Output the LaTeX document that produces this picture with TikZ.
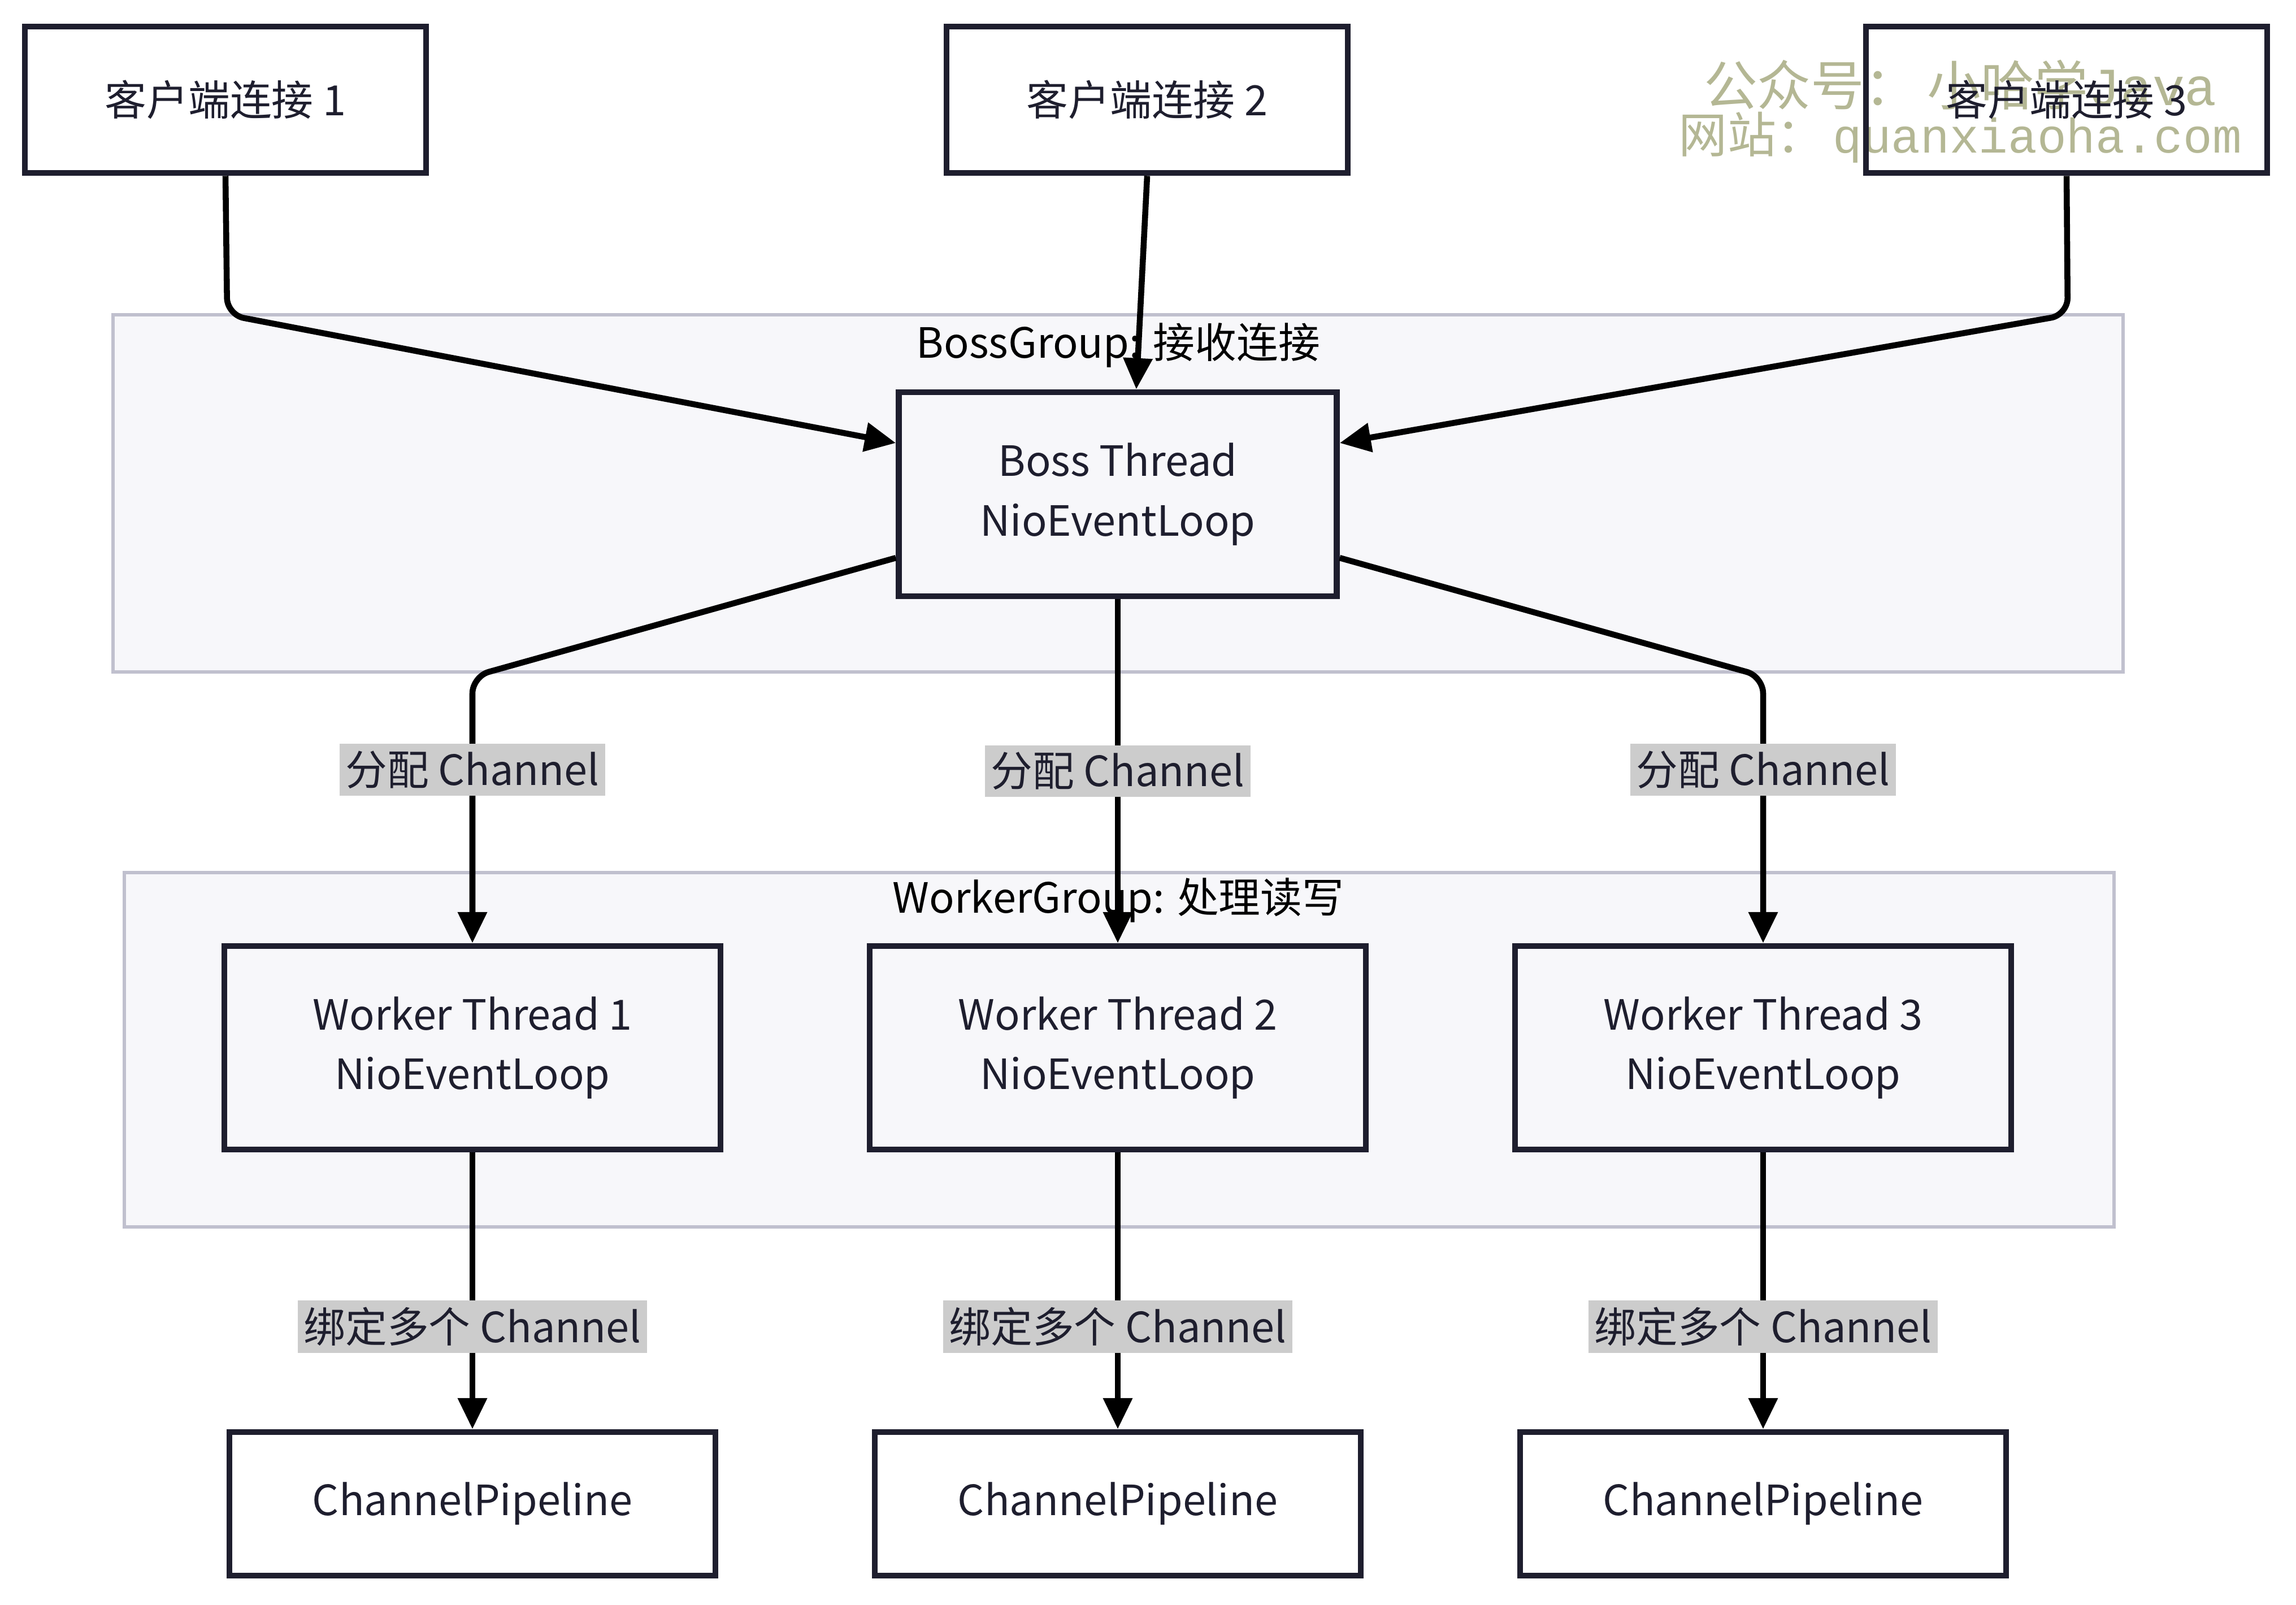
\documentclass[tikz,border=0pt]{standalone}
\usepackage{fontspec}
\setmainfont{Noto Sans CJK SC}
\newfontfamily\markmono{Liberation Mono}
\usepackage{tikz}
\usetikzlibrary{arrows.meta}
\definecolor{inkdark}{RGB}{30,30,46}
\definecolor{groupfill}{RGB}{247,247,250}
\definecolor{groupline}{RGB}{192,192,206}
\definecolor{labelgray}{RGB}{204,204,204}
\definecolor{markolive}{RGB}{180,183,148}

\begin{document}
\begin{tikzpicture}[
    box/.style={draw=inkdark, line width=3pt, text=inkdark, align=center, font=\fontsize{21}{30}\selectfont},
    group/.style={draw=groupline, fill=groupfill, line width=1.5pt},
    grouplabel/.style={font=\fontsize{21}{24}\selectfont, text=black},
    flow/.style={line width=3pt, -{Triangle[length=0.55cm,width=0.5cm]}, rounded corners=0.3cm},
    tag/.style={fill=labelgray, text=inkdark, font=\fontsize{21}{24}\selectfont, inner xsep=3pt, inner ysep=3.5pt, sharp corners}
]
    % Fix the page size
    \useasboundingbox (0,0) rectangle (40.63,-28.39);

    % Watermark
    \node[text=markolive, align=center] (mark) at (34.69,-1.97)
        {\fontsize{27}{30}\selectfont 公众号：\,小哈学{\markmono Java}\\
         \fontsize{24.5}{30}\selectfont 网站：\,{\markmono quanxiaoha.com}};

    % Draw the two groups
    \draw[group] (2.00,-5.57) rectangle (37.57,-11.89);
    \node[grouplabel] (bossgroup) at (19.79,-6.11) {BossGroup: 接收连接};
    \draw[group] (2.20,-15.44) rectangle (37.41,-21.71);
    \node[grouplabel] (workergroup) at (19.79,-15.93) {WorkerGroup: 处理读写};

    % Client connections
    \node[box, minimum width=7.1cm, minimum height=2.59cm] (c1) at (3.99,-1.765) {客户端连接 1};
    \node[box, minimum width=7.1cm, minimum height=2.59cm] (c2) at (20.30,-1.765) {客户端连接 2};
    \node[box, minimum width=7.1cm, minimum height=2.59cm] (c3) at (36.57,-1.765) {客户端连接 3};

    % Boss thread
    \node[box, minimum width=7.75cm, minimum height=3.61cm] (boss) at (19.78,-8.745) {Boss Thread\\NioEventLoop};

    % Worker threads and pipelines
    \foreach \i/\x in {1/8.36, 2/19.78, 3/31.20} {
        \node[box, minimum width=8.78cm, minimum height=3.6cm] (w\i) at (\x,-18.54) {Worker Thread \i\\NioEventLoop};
        \node[box, minimum width=8.6cm, minimum height=2.54cm] (p\i) at (\x,-26.61) {ChannelPipeline};
    }

    % Bend points
    \coordinate (k1) at (4.02,-5.57);
    \coordinate (k3) at (36.59,-5.57);
    \coordinate (b1) at (8.36,-11.97);
    \coordinate (b3) at (31.20,-11.97);

    % Connections into the boss
    \draw[flow] (c1.south) -- (k1) -- (boss.167);
    \draw[flow] (c2.south) -- (boss.80);
    \draw[flow] (c3.south) -- (k3) -- (boss.13);

    % Boss hands channels to workers
    \draw[flow] (boss.196) -- (b1) -- (w1.north) node[tag, pos=0.35] (t1) {分配 Channel};
    \draw[flow] (boss.south) -- (w2.north) node[tag, pos=0.5] (t2) {分配 Channel};
    \draw[flow] (boss.344) -- (b3) -- (w3.north) node[tag, pos=0.35] (t3) {分配 Channel};

    % Workers to pipelines
    \foreach \i in {1, 2, 3}
        \draw[flow] (w\i.south) -- (p\i.north) node[tag, pos=0.63] (q\i) {绑定多个 Channel};

\end{tikzpicture}
\end{document}
